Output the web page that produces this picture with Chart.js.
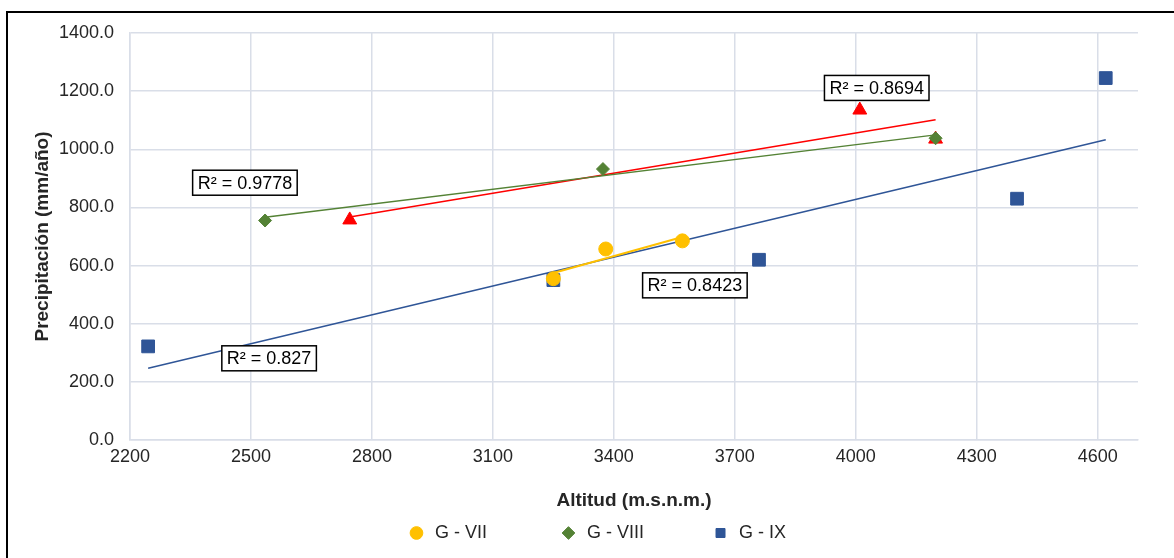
<!DOCTYPE html>
<html>
<head>
<meta charset="utf-8">
<script src="https://cdn.jsdelivr.net/npm/chart.js@4.4.1/dist/chart.umd.min.js"></script>
<style>
    html, body { margin: 0; padding: 0; background: #fff; }
    #wrap { position: relative; width: 1174px; height: 558px; }
    #frame { position: absolute; left: 6px; top: 11px; right: 0; bottom: 0;
        border-top: 2px solid #000; border-left: 2px solid #000; pointer-events: none; }
</style>
</head>
<body>
<div id="wrap">
    <canvas id="chart" width="1174" height="558"></canvas>
    <div id="frame"></div>
</div>
<script>
// Altitud (m.s.n.m.) / Precipitación (mm/año)
const gviiAlt = [3250, 3380, 3570];
const gviiPre = [555, 657, 685];

const gviiiAlt = [2535, 3373, 4198];
const gviiiPre = [755, 932, 1038];

const gixAlt = [2245, 3250, 3760, 4400, 4620];
const gixPre = [322, 550, 620, 830, 1245];

// red series (not in the legend)
const redAlt = [2745, 4010, 4198];
const redPre = [757, 1135, 1035];

const xTicks = [2200, 2500, 2800, 3100, 3400, 3700, 4000, 4300, 4600];

// R² labels: text and anchor in data units
const r2Text = ['R² = 0.9778', 'R² = 0.8694', 'R² = 0.8423', 'R² = 0.827'];
const r2Alt = [2485, 4052, 3601, 2545];
const r2Pre = [885, 1211, 532, 281];

const FONT = 'Liberation Sans, Arial, sans-serif';
const TEXT = '#262626';

function toPoints(xs, ys) {
    return xs.map((x, i) => ({x: x, y: ys[i]}));
}

// least squares line between min and max altitude
function trend(xs, ys) {
    const n = xs.length;
    const mx = xs.reduce((a, b) => a + b, 0) / n;
    const my = ys.reduce((a, b) => a + b, 0) / n;
    let sxy = 0, sxx = 0;
    for (let i = 0; i < n; i++) {
        sxy += (xs[i] - mx) * (ys[i] - my);
        sxx += (xs[i] - mx) * (xs[i] - mx);
    }
    const b = sxy / sxx;
    const a = my - b * mx;
    const x0 = Math.min(...xs), x1 = Math.max(...xs);
    return [{x: x0, y: a + b * x0}, {x: x1, y: a + b * x1}];
}

function trendSet(xs, ys, color, width) {
    return {
        type: 'line', label: '', data: trend(xs, ys),
        borderColor: color, borderWidth: width, pointRadius: 0, fill: false, order: 2
    };
}

const r2Labels = {
    id: 'r2Labels',
    afterDatasetsDraw(chart) {
        const ctx = chart.ctx;
        const xs = chart.scales.x, ys = chart.scales.y;
        ctx.save();
        ctx.font = '18px ' + FONT;
        ctx.textAlign = 'center';
        ctx.textBaseline = 'middle';
        r2Text.forEach((t, i) => {
            const cx = xs.getPixelForValue(r2Alt[i]);
            const cy = ys.getPixelForValue(r2Pre[i]);
            const w = ctx.measureText(t).width + 10;
            const h = 25;
            ctx.fillStyle = '#fff';
            ctx.fillRect(cx - w / 2, cy - h / 2, w, h);
            ctx.strokeStyle = '#000';
            ctx.lineWidth = 1.5;
            ctx.strokeRect(cx - w / 2, cy - h / 2, w, h);
            ctx.fillStyle = '#000';
            ctx.fillText(t, cx, cy + 1);
        });
        ctx.restore();
    }
};

// nudge the legend row to where it sits in the figure
const legendShift = {
    id: 'legendShift',
    afterLayout(chart) {
        chart.legend.left += 25;
        chart.legend.right += 25;
    }
};

const chart = new Chart(document.getElementById('chart'), {
    type: 'scatter',
    data: {
        datasets: [
            {label: 'G - VII', data: toPoints(gviiAlt, gviiPre), pointStyle: 'circle', pointRadius: 7,
                backgroundColor: '#FFC000', borderColor: '#FFC000', order: 1},
            {label: 'G - VIII', data: toPoints(gviiiAlt, gviiiPre), pointStyle: 'rectRot', pointRadius: 6.5,
                backgroundColor: '#548235', borderColor: '#548235', order: 1},
            {label: 'G - IX', data: toPoints(gixAlt, gixPre), pointStyle: 'rect', pointRadius: 9,
                backgroundColor: '#2F5597', borderColor: '#2F5597', order: 1},
            {label: '', data: toPoints(redAlt, redPre), pointStyle: 'triangle', pointRadius: 8,
                backgroundColor: '#FF0000', borderColor: '#FF0000', order: 1},
            trendSet(gviiAlt, gviiPre, '#FFC000', 2),
            trendSet(gviiiAlt, gviiiPre, '#548235', 1.5),
            trendSet(gixAlt, gixPre, '#2F5597', 1.5),
            trendSet(redAlt, redPre, '#FF0000', 1.5)
        ]
    },
    options: {
        responsive: false,
        animation: false,
        layout: {padding: {left: 10, right: 36, top: 33, bottom: 6}},
        plugins: {
            tooltip: {enabled: false},
            legend: {
                position: 'bottom',
                labels: {
                    usePointStyle: true,
                    boxWidth: 9,
                    boxHeight: 9,
                    padding: 12,
                    color: TEXT,
                    font: {family: FONT, size: 18},
                    generateLabels: chart => {
                        const items = Chart.defaults.plugins.legend.labels.generateLabels(chart);
                        const pad = ['             ', '            ', ''];
                        return items.filter(it => it.text !== '').map((it, i) => {
                            it.text = ' ' + it.text + (pad[i] || '');
                            return it;
                        });
                    }
                }
            }
        },
        scales: {
            x: {
                type: 'linear',
                min: 2200,
                max: 4700,
                afterBuildTicks: scale => { scale.ticks = xTicks.map(v => ({value: v})); },
                afterFit: scale => { scale.height = 72; },
                grid: {color: '#D9DEE8', lineWidth: 1.5, drawTicks: false},
                border: {color: '#D9DEE8', width: 1.5},
                ticks: {color: TEXT, padding: 6, font: {family: FONT, size: 18},
                    callback: v => String(v)},
                title: {display: true, text: 'Altitud (m.s.n.m.)', color: TEXT,
                    font: {family: FONT, size: 19, weight: 'bold'}, padding: {top: 15, bottom: 0}}
            },
            y: {
                min: 0,
                max: 1400,
                afterFit: scale => { scale.width = 120; },
                grid: {color: '#D9DEE8', lineWidth: 1.5, drawTicks: false},
                border: {color: '#D9DEE8', width: 1.5},
                ticks: {stepSize: 200, color: TEXT, padding: 16,
                    font: {family: FONT, size: 18}, callback: v => v.toFixed(1)},
                title: {display: true, text: 'Precipitación (mm/año)', color: TEXT,
                    font: {family: FONT, size: 19, weight: 'bold'}, padding: {top: 21, bottom: 0}}
            }
        }
    },
    plugins: [r2Labels, legendShift]
});
</script>
</body>
</html>
